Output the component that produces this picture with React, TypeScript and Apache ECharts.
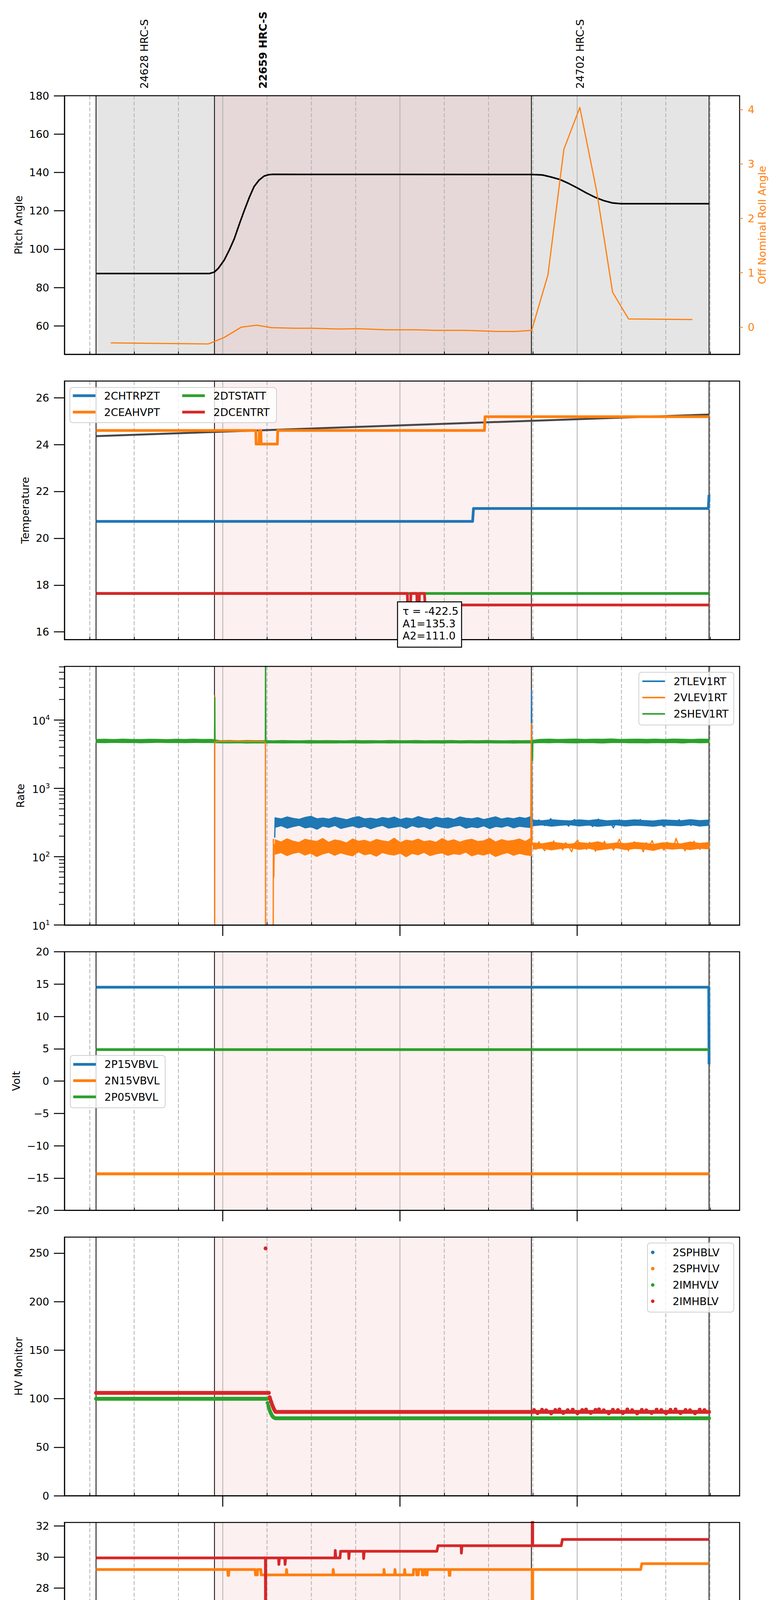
import React, { useEffect, useRef } from 'react';
import * as echarts from 'echarts';

const FONT = "'DejaVu Sans', sans-serif";
const C_BLUE = '#1f77b4';
const C_ORANGE = '#ff7f0e';
const C_GREEN = '#2ca02c';
const C_RED = '#d62728';

// ---------- time axis (minutes relative to 12:00, 2021-05-19) ----------
const X_MIN = -53.6;
const X_MAX = 175;
const quarterMarks = [-45, -30, -15, 0, 15, 30, 45, 60, 75, 90, 105, 120, 135, 150, 165];
const hourMarks = [0, 60, 120];
const minorMarks = quarterMarks.filter((q) => hourMarks.indexOf(q) < 0);
const dateLabel = '2021-05-19 (139)';
const obsBounds = [-42.9, -2.8, 104.5, 164.65];
const activeObs = [-2.8, 104.5];
const obsLabelTimes = [-26.5, 13.6, 121];
const obsLabelTexts = ['24628 HRC-S', '22659 HRC-S', '24702 HRC-S'];
const obsLabelBold = [false, true, false];

// ---------- y ticks / extents ----------
const pitchTicks = [60, 80, 100, 120, 140, 160, 180];
const rollTicks = [0, 1, 2, 3, 4];
const tempTicks = [16, 18, 20, 22, 24, 26];
const rateTicks = [10, 100, 1000, 10000];
const voltTicks = [-20, -15, -10, -5, 0, 5, 10, 15, 20];
const hvTicks = [0, 50, 100, 150, 200, 250];
const detTicks = [16, 18, 20, 22, 24, 26, 28, 30, 32];
const feaTicks = [14, 16, 18, 20, 22];
const yMins = [45.2, 15.67, 10, -20, 0, 15.52, 12.8];
const yMaxs = [180, 26.71, 60950, 20, 266.5, 32.23, 23.2];
const rollRange = [-0.5, 4.256];
const yNames = ['Pitch Angle', 'Temperature', 'Rate', 'Volt', 'HV Monitor', 'Detector Temp', 'FEA Temp'];
const yTickSets = [pitchTicks, tempTicks, rateTicks, voltTicks, hvTicks, detTicks, feaTicks];

// ---------- panel 1 ----------
const pitchData = [[-42.9, 87.3], [-4.5, 87.3], [-2.8, 88.1], [-1.5, 90], [0.5, 94.3], [2.2, 99.5], [3.9, 105.4], [5.6, 113], [7.3, 120.2], [9.0, 127], [10.6, 132.6], [12.3, 136], [14.0, 138.1], [15.5, 138.8], [17, 139], [104.5, 138.9], [106.5, 138.8], [108.3, 138.65], [111.2, 137.6], [114.2, 136.3], [117.2, 134.2], [120.1, 131.9], [123, 129.4], [126, 127.1], [129, 125.3], [131.9, 124.1], [134.8, 123.7], [164.65, 123.7]];
const rollData = [[-37.9, -0.29], [-4.9, -0.31], [0.5, -0.19], [6.3, 0.0], [11.5, 0.035], [16.5, -0.01], [24.1, -0.02], [30, -0.02], [39.3, -0.035], [46, -0.03], [55.3, -0.05], [65.4, -0.05], [72.2, -0.06], [82.3, -0.06], [93.3, -0.08], [99.2, -0.08], [104.6, -0.06], [110.1, 0.96], [115.5, 3.27], [120.9, 4.04], [126.6, 2.5], [132, 0.64], [137.4, 0.15], [159, 0.14]];

// ---------- panel 2 ----------
const tempSlope = [[-42.9, 24.36], [164.65, 25.28]];
const chtrpzt = [[-42.9, 20.72], [84.6, 20.72], [84.9, 21.27], [164.4, 21.27], [164.65, 21.85]];
const ceahvpt = [[-42.9, 24.6], [11.2, 24.6], [11.3, 24.02], [12.3, 24.02], [12.4, 24.6], [12.9, 24.6], [13.0, 24.02], [18.5, 24.02], [18.6, 24.6], [88.6, 24.6], [88.8, 25.19], [164.65, 25.19]];
const dtstatt = [[-42.9, 17.64], [164.65, 17.64]];
const dcentrt = [[-42.9, 17.64], [62.5, 17.64], [62.6, 17.15], [63.6, 17.15], [63.7, 17.64], [65.7, 17.64], [65.8, 17.15], [66.5, 17.15], [66.6, 17.64], [68.3, 17.64], [68.5, 17.15], [164.65, 17.15]];
const fitText = 'τ = -422.5\nA1=135.3\nA2=111.0';

// ---------- panel 3 (rates) ----------
const blueBandT = [17.8, 104.5];
const blueBandHi = [372, 360, 385, 366, 355, 378, 392, 362, 370, 358, 381, 365, 350, 374, 388, 360, 369, 356, 377, 364, 383, 352, 371, 360, 390, 366, 357, 379, 363, 372, 355, 384, 368, 361, 376, 352, 369, 386, 358, 373, 362, 380, 366, 391];
const blueBandLo = [268, 282, 259, 274, 286, 262, 271, 250, 279, 266, 284, 257, 270, 281, 263, 276, 254, 272, 285, 260, 269, 278, 258, 283, 266, 274, 252, 280, 268, 261, 277, 286, 259, 272, 264, 281, 256, 275, 268, 283, 262, 277, 270, 265];
const orangeBandT = [17.7, 104.5];
const orangeBandHi = [178, 165, 184, 170, 162, 181, 174, 168, 186, 163, 177, 171, 160, 183, 169, 175, 164, 180, 172, 166, 188, 161, 176, 170, 182, 167, 173, 163, 185, 169, 178, 164, 175, 181, 168, 172, 187, 165, 179, 170, 174, 183, 168, 190];
const orangeBandLo = [108, 114, 103, 111, 116, 105, 112, 100, 109, 115, 104, 113, 107, 102, 117, 106, 110, 101, 114, 108, 105, 112, 99, 111, 106, 115, 103, 109, 113, 104, 110, 107, 116, 102, 109, 105, 112, 100, 108, 114, 104, 111, 106, 103];
const greenBandT = [-42.9, 164.65];
const greenBandHi = [5230, 5260, 5210, 5280, 5240, 5220, 5270, 5250, 5200, 5260, 5240, 5280, 5230, 5250,
  5020, 5040, 5000, 5050, 5010, 5030, 4990, 5040, 5020, 5000, 5050, 5010, 5030, 5020, 4990, 5040, 5010, 5030, 5000, 5050, 5020, 5010, 5040, 4990, 5030, 5020, 5050, 5000, 5030, 5010, 5040, 5020, 4990, 5030, 5010, 5040,
  5250, 5290, 5230, 5270, 5300, 5240, 5280, 5260, 5310, 5230, 5270, 5290, 5250, 5280, 5240, 5300, 5260, 5230, 5290, 5270];
const greenBandLo = [4660, 4630, 4680, 4640, 4670, 4620, 4650, 4690, 4640, 4660, 4630, 4670, 4650, 4640,
  4600, 4580, 4610, 4570, 4600, 4590, 4620, 4580, 4600, 4610, 4570, 4600, 4590, 4580, 4610, 4600, 4570, 4590, 4610, 4580, 4600, 4620, 4580, 4590, 4600, 4570, 4610, 4590, 4600, 4580, 4610, 4590, 4600, 4570, 4600, 4590,
  4640, 4610, 4660, 4620, 4600, 4650, 4630, 4590, 4640, 4660, 4610, 4630, 4600, 4650, 4620, 4640, 4590, 4660, 4620, 4640];
const sparseT = [105.0, 164.6];
const blueSparse = [330, 295, 345, 310, 285, 320, 360, 300, 315, 290, 335, 305, 280, 325, 350, 298, 312, 288, 340, 308, 276, 318, 355, 302, 290, 330, 312, 265, 322, 345, 300, 285, 318, 338, 296, 310, 350, 288, 305, 328, 292, 316, 340, 298, 275, 320, 334, 306, 290, 348, 312, 296, 325, 285, 342, 308, 318, 300, 330, 310];
const orangeSparse = [150, 128, 165, 138, 122, 158, 145, 170, 132, 148, 126, 160, 140, 118, 155, 175, 135, 150, 128, 162, 142, 120, 158, 136, 168, 130, 152, 125, 146, 180, 138, 155, 122, 148, 165, 132, 150, 118, 160, 142, 172, 128, 152, 138, 125, 163, 145, 130, 185, 140, 150, 122, 158, 135, 168, 142, 128, 155, 138, 148];
const blueSparseHi = [345, 338, 350, 342, 336, 348, 340, 352, 337, 344, 339, 349, 341, 335, 347, 343, 338, 351, 340, 346];
const blueSparseLo = [282, 290, 278, 286, 292, 280, 288, 276, 284, 291, 279, 287, 283, 277, 289, 285, 281, 293, 279, 286];
const orangeSparseHi = [160, 155, 164, 158, 153, 162, 157, 166, 154, 160, 156, 163, 159, 152, 161, 158, 155, 165, 157, 162];
const orangeSparseLo = [128, 133, 125, 131, 135, 127, 132, 124, 130, 134, 126, 131, 129, 123, 133, 128, 131, 126, 132, 129];
const blueRise = [[17.6, 190], [17.75, 370], [17.9, 320]];
const blueSpike = [[104.3, 330], [104.55, 26500], [104.75, 380], [105.0, 330]];
const orangeEarly = [[-42.9, 0.1], [-2.75, 0.1], [-2.7, 22700], [-2.62, 4900], [14.45, 4850], [14.52, 0.1], [17.0, 0.1], [17.15, 180], [17.3, 50], [17.45, 150], [17.6, 130]];
const orangeSpike = [[104.3, 140], [104.5, 8900], [104.7, 150], [105.0, 150]];
const greenSpikeA = [[-2.8, 4900], [-2.7, 21400], [-2.6, 4800]];
const greenSpikeB = [[14.42, 4800], [14.5, 200000], [14.58, 4800]];
const greenSpikeC = [[104.8, 4900], [104.9, 2570], [105.0, 5000]];

// ---------- panel 4 ----------
const p15vbvl = [[-42.9, 14.52], [164.55, 14.52], [164.65, 2.6]];
const n15vbvl = [[-42.9, -14.35], [164.65, -14.35]];
const p05vbvl = [[-42.9, 4.86], [164.65, 4.86]];

// ---------- panel 5 (HV monitor, sampled telemetry) ----------
const hvSampleStep = 0.35;
const hvGreenLevels = [[-42.9, 15.0, 99.9], [17.8, 164.65, 79.8]];
const hvGreenStep = [[15.2, 95.5], [15.45, 92.5], [15.7, 90], [15.95, 87.5], [16.2, 85.5], [16.45, 84], [16.7, 82.5], [16.95, 81.5], [17.2, 80.8], [17.5, 80.2]];
const hvRedLevels = [[-42.9, 15.6, 106], [17.9, 164.65, 86.4]];
const hvRedStep = [[15.9, 101.5], [16.1, 99.5], [16.3, 97.5], [16.5, 96], [16.7, 94], [16.9, 92.5], [17.1, 91], [17.3, 89.5], [17.5, 88.3], [17.7, 87.3]];
const hvRedOutlier = [[14.5, 254.9]];
const hvRedNoise = [[105.4, 88.3], [106.6, 85.0], [108.1, 88.6], [109.5, 88.0], [111.2, 84.8], [112.6, 88.4], [114.0, 88.9], [115.3, 85.2], [116.8, 88.2], [118.5, 88.7], [120.1, 84.9], [121.7, 88.3], [123.0, 88.8], [124.6, 85.3], [126.2, 88.5], [127.4, 89.0], [129.0, 88.1], [130.7, 84.9], [132.1, 88.6], [133.8, 88.3], [135.5, 85.1], [137.0, 88.9], [138.6, 88.2], [140.3, 84.8], [141.9, 88.5], [143.4, 88.0], [145.2, 85.2], [146.9, 88.7], [148.5, 88.3], [150.1, 85.0], [151.6, 88.6], [153.3, 88.9], [155.0, 85.1], [156.7, 88.4], [158.2, 88.1], [159.9, 84.9], [161.5, 88.7], [163.1, 88.3]];

// ---------- panel 6 ----------
const spinatm = [[-42.9, 16.99], [164.65, 16.99]];
const sphvatm = [[-42.9, 29.19], [1.7, 29.19], [1.8, 28.81], [2.0, 28.81], [2.1, 29.19], [11.0, 29.19], [11.1, 28.84], [11.7, 28.84], [11.8, 29.19], [12.9, 29.19], [13.0, 28.84], [21.5, 28.84], [21.6, 29.19], [21.8, 28.84], [37.3, 28.84], [37.4, 29.19], [37.6, 28.84], [54.5, 28.84], [54.6, 29.19], [54.8, 28.84], [58.2, 28.84], [58.3, 29.19], [58.5, 28.84], [61.5, 28.84], [61.6, 29.19], [61.8, 28.84], [64.5, 28.84], [64.6, 29.19], [65.6, 29.19], [65.7, 28.84], [66.2, 28.84], [66.3, 29.19], [67.5, 29.19], [67.6, 28.84], [68.0, 28.84], [68.1, 29.19], [68.8, 29.19], [68.9, 28.84], [69.2, 28.84], [69.3, 29.19], [76.6, 29.19], [76.7, 28.81], [76.9, 28.81], [77.0, 29.19], [104.8, 29.19], [104.88, 5], [104.96, 29.19], [141.5, 29.19], [141.9, 29.57], [164.65, 29.57]];
const iminatm = [[-42.9, 18.29], [-3.9, 18.29], [-3.6, 17.65], [104.8, 17.65], [104.88, 5], [104.96, 17.65], [164.65, 17.65]];
const imhvatm = [[-42.9, 29.94], [14.45, 29.94], [14.5, 5], [14.55, 29.94], [18.9, 29.94], [19.0, 29.52], [19.2, 29.94], [21.0, 29.94], [21.1, 29.52], [21.3, 29.94], [38.0, 29.94], [38.1, 30.42], [38.3, 29.94], [39.7, 29.94], [39.9, 30.37], [42.6, 30.37], [42.7, 29.9], [42.9, 30.37], [47.6, 30.37], [47.7, 29.9], [47.9, 30.37], [72.5, 30.37], [72.9, 30.73], [80.7, 30.73], [80.8, 30.25], [81.0, 30.73], [104.8, 30.73], [104.88, 40], [104.96, 30.73], [114.6, 30.73], [115.0, 31.13], [164.65, 31.13]];

// ---------- panel 7 ----------
const fhtrmzt = [[-42.9, 19.15], [59.8, 19.15], [60.1, 19.68], [114.2, 19.68], [114.5, 20.2], [164.65, 20.2]];
const fradpyt = [[-42.9, 14.3], [4.2, 14.3], [4.4, 13.8], [4.6, 14.3], [24.2, 14.3], [24.5, 14.76], [43.3, 14.76], [43.6, 15.23], [75.8, 15.23], [76.1, 15.69], [164.65, 15.69]];
const fepratm = [[-42.9, 21.68], [-14.3, 21.68], [-13.3, 20.95], [-12.45, 21.68], [-12.1, 21.68], [-11.6, 20.98], [14.45, 20.98], [14.5, 5], [14.55, 20.98], [36.7, 20.98], [36.8, 21.68], [36.9, 20.98], [49.3, 20.98], [49.4, 21.68], [49.9, 21.68], [50.0, 20.98], [50.9, 20.98], [51.1, 21.68], [56.9, 21.68], [57.0, 20.97], [57.1, 21.68], [104.85, 21.68], [104.9, 30], [104.95, 21.68], [155.5, 21.68], [155.7, 22.4], [156.1, 21.68], [157.1, 22.4], [157.6, 21.68], [158.5, 22.4], [159.0, 21.68], [159.7, 22.4], [160.2, 21.68], [160.6, 22.4], [164.65, 22.4]];
const fe00atm = [[-42.9, 19.86], [-1.9, 19.86], [-1.8, 19.54], [-1.0, 19.54], [-0.9, 19.86], [-0.6, 19.86], [-0.5, 19.54], [0.3, 19.54], [0.4, 19.86], [0.5, 19.54], [14.45, 19.54], [14.5, 5], [14.55, 19.54], [20.2, 19.54], [20.3, 19.88], [20.9, 19.88], [21.0, 20.21], [21.2, 19.54], [21.8, 19.54], [21.9, 19.88], [22.4, 19.88], [22.5, 19.54], [23.6, 19.54], [23.7, 19.88], [27.6, 19.88], [27.7, 20.21], [27.8, 19.55], [27.9, 19.88], [31.8, 19.88], [31.9, 18.93], [32.0, 19.88], [38.9, 19.88], [39.0, 18.93], [39.1, 19.88], [43.6, 19.88], [43.7, 19.23], [43.8, 19.88], [55.7, 19.88], [55.8, 20.5], [55.9, 19.88], [59.6, 19.88], [59.7, 19.55], [59.8, 19.88], [66.7, 19.88], [66.8, 20.17], [67.5, 20.17], [67.6, 20.5], [67.7, 20.17], [72.9, 20.17], [73.0, 19.85], [73.1, 20.17], [73.8, 20.17], [73.9, 19.55], [74.0, 20.17], [75.0, 20.17], [75.1, 19.85], [75.2, 20.17], [79.3, 20.17], [79.4, 20.5], [79.5, 19.55], [79.6, 20.17], [83.7, 20.17], [83.8, 19.23], [83.9, 20.17], [92.0, 20.17], [92.1, 19.9], [92.2, 20.17], [103.6, 20.17], [103.7, 20.5], [103.8, 20.17], [104.85, 20.17], [104.9, 5], [104.95, 20.17], [107.7, 20.17], [108.1, 20.48], [164.65, 20.48]];

// ---------- layout (pixels) ----------
const GRID_LEFT = 165;
const GRID_W = 1729;
const GRID_H = 662;
const GRID_TOPS = [245, 975.5, 1706, 2436.5, 3167, 3897.5, 4628];
const NAME_GAPS = [104.5, 87.5, 99.5, 110.5, 104.5, 87.5, 90.5];

function evenTimes(range: number[], n: number) {
  const out: number[] = [];
  for (let i = 0; i < n; i++) out.push(range[0] + ((range[1] - range[0]) * i) / (n - 1));
  return out;
}
function zipTV(range: number[], vals: number[]) {
  const ts = evenTimes(range, vals.length);
  return vals.map((v, i) => [ts[i], v]);
}
function sampleLevels(levels: number[][], step: number) {
  const out: number[][] = [];
  levels.forEach(([t0, t1, v]) => {
    const n = Math.floor((t1 - t0) / step);
    for (let i = 0; i <= n; i++) out.push([t0 + i * step, v]);
    out.push([t1, v]);
  });
  return out;
}
const minusFmt = (v: number) => (v < 0 ? '\u2212' + String(-v) : String(v));
const timeLabel = (q: number) => (hourMarks.indexOf(q) >= 0 ? 12 + q / 60 + 'h' : String(((q % 60) + 60) % 60));

function lineSeries(name: string | undefined, g: number, data: any[], color: string, width: number, yIdx?: number) {
  return {
    type: 'line', name, xAxisIndex: g, yAxisIndex: yIdx == null ? g : yIdx, data,
    showSymbol: false, symbol: 'none', z: 3, silent: true, connectNulls: false,
    itemStyle: { color }, lineStyle: { color, width, join: 'round', cap: 'butt' },
    emphasis: { disabled: true },
  };
}
function scatterSeries(name: string, g: number, data: any[], color: string) {
  return {
    type: 'scatter', name, xAxisIndex: g, yAxisIndex: g, data, symbol: 'circle', symbolSize: 10, z: 3, silent: true,
    itemStyle: { color, opacity: 1 }, emphasis: { disabled: true },
  };
}
function bandSeries(g: number, range: number[], lo: number[], hi: number[], color: string) {
  const ts = evenTimes(range, lo.length);
  return {
    type: 'custom', xAxisIndex: g, yAxisIndex: g, z: 3, silent: true, data: [[ts[0], lo[0]]],
    renderItem: (params: any, api: any) => {
      const pts: number[][] = [];
      for (let i = 0; i < ts.length; i++) pts.push(api.coord([ts[i], hi[i]]));
      for (let i = ts.length - 1; i >= 0; i--) pts.push(api.coord([ts[i], lo[i]]));
      return { type: 'polygon', shape: { points: pts }, style: { fill: color, stroke: color, lineWidth: 1.5 } };
    },
  };
}
const yRefs = [100, 20, 100, 0, 100, 20, 18];

function bgSeries(g: number) {
  const yRef = yRefs[g];
  return {
    type: 'custom', xAxisIndex: g, yAxisIndex: g, z: 1, silent: true, data: [[0, yRef]],
    renderItem: (params: any, api: any) => {
      const cs = params.coordSys;
      const top = cs.y;
      const bot = cs.y + cs.height;
      const X = (t: number) => api.coord([t, yRef])[0];
      const ch: any[] = [];
      const band = (a: number, b: number, fill: string) =>
        ch.push({ type: 'rect', shape: { x: X(a), y: top, width: X(b) - X(a), height: cs.height }, style: { fill } });
      if (g === 0) {
        band(obsBounds[0], obsBounds[3], '#e5e5e5');
        band(activeObs[0], activeObs[1], '#e6d8d8');
      } else {
        band(activeObs[0], activeObs[1], '#fdf0f0');
      }
      quarterMarks.forEach((q) => {
        const x = X(q);
        const hr = hourMarks.indexOf(q) >= 0;
        const style: any = { stroke: '#b0b0b0', lineWidth: 2 };
        if (!hr) style.lineDash = [10, 5];
        ch.push({ type: 'line', shape: { x1: x, y1: top, x2: x, y2: bot }, style });
      });
      obsBounds.forEach((b) => {
        const x = X(b);
        ch.push({ type: 'line', shape: { x1: x, y1: top, x2: x, y2: bot }, style: { stroke: '#000', lineWidth: 2 } });
      });
      return { type: 'group', children: ch };
    },
  };
}

function fgSeries(g: number) {
  const yRef = yRefs[g];
  return {
    type: 'custom', xAxisIndex: g, yAxisIndex: g, z: 7, silent: true, data: [[0, yRef]],
    renderItem: (params: any, api: any) => {
      const cs = params.coordSys;
      const bot = cs.y + cs.height;
      const X = (t: number) => api.coord([t, yRef])[0];
      const ch: any[] = [];
      if (g >= 2) {
        hourMarks.forEach((h) => {
          const x = X(h);
          ch.push({ type: 'line', shape: { x1: x, y1: bot, x2: x, y2: bot + 28 }, style: { stroke: '#000', lineWidth: 2.5 } });
        });
      }
      if (g === 6) {
        quarterMarks.forEach((q) => {
          const hr = hourMarks.indexOf(q) >= 0;
          ch.push({
            type: 'text', x: X(q), y: bot + (hr ? 51.7 : 16),
            style: { text: timeLabel(q), fontSize: hr ? 28 : 18, fontFamily: FONT, fill: '#000', align: 'center', verticalAlign: 'middle' },
          });
        });
        ch.push({
          type: 'text', x: X((X_MIN + X_MAX) / 2), y: bot + 88,
          style: { text: dateLabel, fontSize: 33, fontFamily: FONT, fill: '#000', align: 'center', verticalAlign: 'middle' },
        });
      }
      if (g === 0) {
        obsLabelTimes.forEach((t, i) => {
          ch.push({
            type: 'text', x: X(t), y: cs.y - 18, rotation: Math.PI / 2,
            style: { text: obsLabelTexts[i], fontSize: 27, fontFamily: FONT, fontWeight: obsLabelBold[i] ? 'bold' : 'normal', fill: '#000', align: 'left', verticalAlign: 'middle' },
          });
        });
      }
      if (g === 2) {
        const x0 = cs.x;
        rateTicks.forEach((v) => {
          const y = api.coord([0, v])[1];
          ch.push({ type: 'line', shape: { x1: x0 - 27, y1: y, x2: x0, y2: y }, style: { stroke: '#000', lineWidth: 2.5 } });
          const k = Math.round(Math.log10(v));
          ch.push({
            type: 'text', x: x0 - 37, y: y + 2,
            style: {
              text: '{b|10}{s|' + k + '}', align: 'right', verticalAlign: 'middle',
              rich: {
                b: { fontSize: 27, fontFamily: FONT, fill: '#000' },
                s: { fontSize: 18, fontFamily: FONT, fill: '#000', padding: [0, 0, 18, 0] },
              },
            },
          });
        });
        rateTicks.forEach((v) => {
          for (let m = 2; m <= 9; m++) {
            const mv = v * m;
            if (mv > yMaxs[2]) continue;
            const y = api.coord([0, mv])[1];
            ch.push({ type: 'line', shape: { x1: x0 - 14, y1: y, x2: x0, y2: y }, style: { stroke: '#000', lineWidth: 2 } });
          }
        });
      }
      return { type: 'group', children: ch };
    },
  };
}

function buildOption() {
  const grids = GRID_TOPS.map((t) => ({
    left: GRID_LEFT, top: t, width: GRID_W, height: GRID_H, show: true,
    borderColor: '#000', borderWidth: 2.5, backgroundColor: 'rgba(0,0,0,0)', z: 4,
    containLabel: false, outerBoundsMode: 'none',
  }));

  const xAxes = GRID_TOPS.map((_, g) => ({
    type: 'value', gridIndex: g, min: X_MIN, max: X_MAX, z: 6,
    axisLine: { show: true, onZero: false, lineStyle: { color: '#000', width: 2.5 } },
    axisTick: { show: true, inside: true, length: 7, customValues: minorMarks, lineStyle: { color: '#000', width: 2 } },
    axisLabel: { show: false },
    splitLine: { show: false },
  }));

  const yAxes: any[] = GRID_TOPS.map((_, g) => ({
    type: g === 2 ? 'log' : 'value', logBase: 10, gridIndex: g, min: yMins[g], max: yMaxs[g], position: 'left', z: 6,
    axisLine: { show: true, onZero: false, lineStyle: { color: '#000', width: 2.5 } },
    axisTick: g === 2 ? { show: false } : { show: true, length: 27, customValues: yTickSets[g], lineStyle: { color: '#000', width: 2.5 } },
    axisLabel: g === 2 ? { show: false } : {
      show: true, customValues: yTickSets[g], margin: 39, fontSize: 27, fontFamily: FONT, color: '#000',
      formatter: (v: number) => minusFmt(Math.round(v * 100) / 100),
    },
    splitLine: { show: false }, minorTick: { show: false },
    name: yNames[g], nameLocation: 'middle', nameGap: NAME_GAPS[g], nameRotate: 90, nameMoveOverlap: false,
    nameTextStyle: { fontSize: 27, lineHeight: 27, fontFamily: FONT, color: '#000' },
  }));
  yAxes.push({
    type: 'value', gridIndex: 0, min: rollRange[0], max: rollRange[1], position: 'right', z: 6,
    axisLine: { show: false, onZero: false },
    axisTick: { show: true, length: 8, customValues: rollTicks, lineStyle: { color: C_ORANGE, width: 2 } },
    axisLabel: { show: true, customValues: rollTicks, margin: 21, fontSize: 27, fontFamily: FONT, color: C_ORANGE },
    splitLine: { show: false },
    name: 'Off Nominal Roll Angle', nameLocation: 'middle', nameGap: 44, nameRotate: 90, nameMoveOverlap: false,
    nameTextStyle: { fontSize: 27, lineHeight: 27, fontFamily: FONT, color: C_ORANGE },
  });

  const gap = (t: number) => [[t, null]];
  const blueLine = [...blueRise, ...gap(18.0), ...blueSpike, ...zipTV(sparseT, blueSparse)];
  const orangeLine = [...orangeEarly, ...gap(17.7), ...orangeSpike, ...zipTV(sparseT, orangeSparse)];
  const greenLine = [...greenSpikeA, ...gap(0), ...greenSpikeB, ...gap(20), ...greenSpikeC];

  const hvGreen = [...sampleLevels([hvGreenLevels[0]], hvSampleStep), ...hvGreenStep, ...sampleLevels([hvGreenLevels[1]], hvSampleStep)];
  const hvRed = [...sampleLevels([hvRedLevels[0]], hvSampleStep), ...hvRedOutlier, ...hvRedStep, ...sampleLevels([hvRedLevels[1]], hvSampleStep), ...hvRedNoise];

  const series: any[] = [];
  for (let g = 0; g < 7; g++) series.push(bgSeries(g));
  // panel 1
  series.push(lineSeries('Pitch', 0, pitchData, '#000', 4));
  series.push(lineSeries('Roll', 0, rollData, C_ORANGE, 3, 7));
  // panel 2
  series.push(lineSeries(undefined, 1, tempSlope, '#474747', 5));
  series.push(lineSeries('2CHTRPZT', 1, chtrpzt, C_BLUE, 7));
  series.push(lineSeries('2CEAHVPT', 1, ceahvpt, C_ORANGE, 7));
  series.push(lineSeries('2DTSTATT', 1, dtstatt, C_GREEN, 7));
  series.push(lineSeries('2DCENTRT', 1, dcentrt, C_RED, 7));
  // panel 3
  series.push(bandSeries(2, blueBandT, blueBandLo, blueBandHi, C_BLUE));
  series.push(bandSeries(2, sparseT, blueSparseLo, blueSparseHi, C_BLUE));
  series.push(lineSeries('2TLEV1RT', 2, blueLine, C_BLUE, 3.2));
  series.push(bandSeries(2, orangeBandT, orangeBandLo, orangeBandHi, C_ORANGE));
  series.push(bandSeries(2, sparseT, orangeSparseLo, orangeSparseHi, C_ORANGE));
  series.push(lineSeries('2VLEV1RT', 2, orangeLine, C_ORANGE, 3.2));
  series.push(bandSeries(2, greenBandT, greenBandLo, greenBandHi, C_GREEN));
  series.push(lineSeries('2SHEV1RT', 2, greenLine, C_GREEN, 3.2));
  // panel 4
  series.push(lineSeries('2P15VBVL', 3, p15vbvl, C_BLUE, 7));
  series.push(lineSeries('2N15VBVL', 3, n15vbvl, C_ORANGE, 7.5));
  series.push(lineSeries('2P05VBVL', 3, p05vbvl, C_GREEN, 7));
  // panel 5
  series.push(scatterSeries('2SPHBLV', 4, [], C_BLUE));
  series.push(scatterSeries('2SPHVLV', 4, [], C_ORANGE));
  series.push(scatterSeries('2IMHVLV', 4, hvGreen, C_GREEN));
  series.push(scatterSeries('2IMHBLV', 4, hvRed, C_RED));
  // panel 6
  series.push(lineSeries('2SPINATM', 5, spinatm, C_BLUE, 7));
  series.push(lineSeries('2SPHVATM', 5, sphvatm, C_ORANGE, 7));
  series.push(lineSeries('2IMINATM', 5, iminatm, C_GREEN, 7));
  series.push(lineSeries('2IMHVATM', 5, imhvatm, C_RED, 7));
  // panel 7
  series.push(lineSeries('2FHTRMZT', 6, fhtrmzt, C_BLUE, 7));
  series.push(lineSeries('2FRADPYT', 6, fradpyt, C_ORANGE, 7));
  series.push(lineSeries('2FEPRATM', 6, fepratm, C_GREEN, 7));
  series.push(lineSeries('2FE00ATM', 6, fe00atm, C_RED, 7));
  for (let g = 0; g < 7; g++) series.push(fgSeries(g));

  const legText = (pad: number) => ({ fontSize: 27, lineHeight: 30, fontFamily: FONT, color: '#000', padding: [0, 0, 0, pad] });
  const mkLegend = (names: string[], left: number, top: number, itemGap: number, opts: any = {}) => ({
    orient: 'vertical', left, top, padding: 0, itemGap, itemWidth: opts.iw || 58, itemHeight: opts.ih || 7,
    icon: opts.icon || 'rect', data: names, selectedMode: false, z: 300,
    textStyle: legText(opts.pad == null ? 17 : opts.pad), inactiveColor: '#ccc',
  });
  const legends = [
    mkLegend(['2CHTRPZT', '2CEAHVPT'], 186.5, 998, 12),
    mkLegend(['2DTSTATT', '2DCENTRT'], 466.6, 998, 12),
    mkLegend(['2TLEV1RT', '2VLEV1RT', '2SHEV1RT'], 1645, 1729, 11.7, { ih: 4 }),
    mkLegend(['2P15VBVL', '2N15VBVL', '2P05VBVL'], 187.5, 2709.7, 11.7),
    mkLegend(['2SPHBLV', '2SPHVLV', '2IMHVLV', '2IMHBLV'], 1667, 3191, 11.7, { icon: 'circle', iw: 54, ih: 9, pad: 19 }),
    mkLegend(['2SPINATM', '2SPHVATM', '2IMINATM', '2IMHVATM'], 1639, 4149.7, 11.7),
    mkLegend(['2FHTRMZT', '2FRADPYT', '2FEPRATM', '2FE00ATM'], 1636, 4880, 11.7),
  ];
  const boxes = [
    [179, 992, 529, 90], [1636, 1721, 243, 135], [180, 2702, 243, 134],
    [1658, 3182, 221, 177], [1633, 4142, 246, 177], [1630, 4872, 249, 177],
  ];
  const graphic: any[] = boxes.map((b) => ({
    type: 'rect', z: 250, silent: true,
    shape: { x: b[0], y: b[1], width: b[2], height: b[3], r: 7 },
    style: { fill: 'rgba(255,255,255,0.8)', stroke: '#d0d0d0', lineWidth: 2 },
  }));
  graphic.push({
    type: 'rect', z: 250, silent: true,
    shape: { x: 1018, y: 1540.7, width: 164, height: 116 },
    style: { fill: '#fff', stroke: '#000', lineWidth: 2.5 },
  });
  graphic.push({
    type: 'text', z: 251, silent: true, x: 1031, y: 1549,
    style: { text: fitText, fontSize: 27, lineHeight: 31.5, fontFamily: FONT, fill: '#000', align: 'left', verticalAlign: 'top' },
  });

  return {
    animation: false,
    backgroundColor: '#ffffff',
    textStyle: { fontFamily: FONT },
    grid: grids,
    xAxis: xAxes,
    yAxis: yAxes,
    legend: legends,
    graphic,
    series,
  };
}

export default function App() {
  const ref = useRef<HTMLDivElement | null>(null);
  useEffect(() => {
    document.body.style.margin = '0';
    const chart = echarts.init(ref.current as HTMLDivElement, null, { renderer: 'svg', width: 2000, height: 5400 });
    chart.setOption(buildOption() as any);
    return () => chart.dispose();
  }, []);
  return <div ref={ref} style={{ width: 2000, height: 5400 }} />;
}
